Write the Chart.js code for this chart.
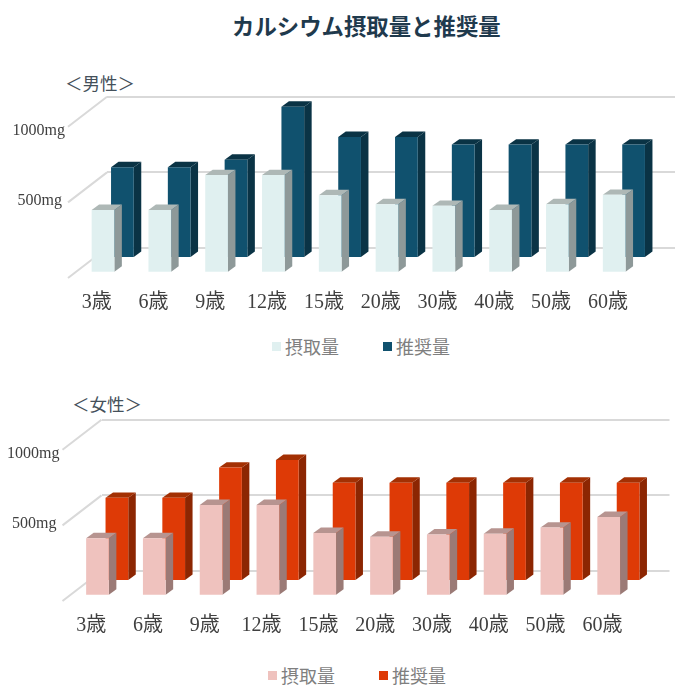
<!doctype html>
<html lang="ja">
  <head>
    <meta charset="utf-8">
    <title>カルシウム摂取量と推奨量</title>
    <style>
      * {
        margin: 0;
        padding: 0;
      }
      body {
        width: 690px;
        height: 698px;
        position: relative;
        background: #ffffff;
        overflow: hidden;
        font-family: "Liberation Serif", "Noto Sans CJK JP", sans-serif;
      }
      canvas {
        position: absolute;
        left: 0;
      }
      h1 {
        position: absolute;
        left: 232px;
        top: 9px;
        font: bold 22.4px/32px "Noto Sans CJK JP", sans-serif;
        color: #1f3a4d;
        white-space: nowrap;
      }
      .sub {
        position: absolute;
        font: 17.5px/24px "Noto Sans CJK JP", sans-serif;
        color: #44505a;
        white-space: nowrap;
      }
      .legend {
        position: absolute;
        display: flex;
        align-items: center;
        font: 18px/24px "Noto Sans CJK JP", sans-serif;
        color: #7f7f7f;
        white-space: nowrap;
      }
      .legend i {
        display: inline-block;
        width: 9px;
        height: 9px;
        margin-right: 4px;
      }
      .legend span {
        margin-right: 44px;
      }
    </style>
  </head>
  <body>
    <h1>カルシウム摂取量と推奨量</h1>

    <div class="sub" style="left:65px;top:71px">＜男性＞</div>
    <canvas id="maleChart" width="690" height="260" style="top:60px"></canvas>
    <div class="legend" id="maleLegend" style="left:272px;top:334px"></div>

    <div class="sub" style="left:72px;top:392px">＜女性＞</div>
    <canvas id="femaleChart" width="690" height="260" style="top:383.4px"></canvas>
    <div class="legend" id="femaleLegend" style="left:268px;top:663px"></div>

    <script src="https://cdn.jsdelivr.net/npm/chart.js"></script>
    <script>
    // data
    const ages = ['3歳', '6歳', '9歳', '12歳', '15歳', '20歳', '30歳', '40歳', '50歳', '60歳'];
    const seriesNames = ['摂取量', '推奨量'];
    const maleIntake = [415, 415, 645, 645, 512, 453, 442, 415, 453, 515];
    const maleRecommended = [600, 600, 650, 1000, 800, 800, 750, 750, 750, 750];
    const femaleIntake = [380, 380, 600, 600, 415, 390, 405, 410, 450, 520];
    const femaleRecommended = [550, 550, 750, 800, 650, 650, 650, 650, 650, 650];

    // fake 3D: each dataset is pushed forward from the back wall
    const frontShift = { x: -32.4, y: 24.7 };
    const backShift = { x: -13, y: 10 };
    const barDepth = { x: 7.5, y: 5.4 };
    const floorDepth = { x: -39, y: 30 };

    const cuboid = {
      id: 'cuboid',
      beforeDatasetDraw(chart, args) {
        const ds = chart.data.datasets[args.index];
        const ctx = chart.ctx;
        ctx.save();
        ctx.translate(ds.shift.x, ds.shift.y);
        args.meta.data.forEach(bar => {
          const right = bar.x + bar.width / 2;
          const left = bar.x - bar.width / 2;
          ctx.fillStyle = ds.sideColor;
          ctx.beginPath();
          ctx.moveTo(right, bar.y);
          ctx.lineTo(right + barDepth.x, bar.y - barDepth.y);
          ctx.lineTo(right + barDepth.x, bar.base - barDepth.y);
          ctx.lineTo(right, bar.base);
          ctx.fill();
          ctx.fillStyle = ds.topColor;
          ctx.beginPath();
          ctx.moveTo(left, bar.y);
          ctx.lineTo(left + barDepth.x, bar.y - barDepth.y);
          ctx.lineTo(right + barDepth.x, bar.y - barDepth.y);
          ctx.lineTo(right, bar.y);
          ctx.fill();
        });
      },
      afterDatasetDraw(chart) {
        chart.ctx.restore();
      }
    };

    const floorLines = {
      id: 'floorLines',
      beforeDatasetsDraw(chart) {
        const ctx = chart.ctx;
        const y = chart.scales.y;
        ctx.save();
        ctx.strokeStyle = '#d9d9d9';
        ctx.lineWidth = 2;
        y.ticks.forEach(tick => {
          const py = y.getPixelForValue(tick.value);
          ctx.beginPath();
          ctx.moveTo(y.left, py);
          ctx.lineTo(y.left + floorDepth.x, py + floorDepth.y);
          ctx.stroke();
        });
        ctx.restore();
      }
    };

    // value labels sit on the front edge, not on the wall
    const yLabels = {
      id: 'yLabels',
      afterDraw(chart) {
        const ctx = chart.ctx;
        const y = chart.scales.y;
        ctx.save();
        ctx.font = '16px "Liberation Serif"';
        ctx.fillStyle = '#404040';
        ctx.textAlign = 'right';
        ctx.textBaseline = 'middle';
        y.ticks.forEach(tick => {
          if (tick.value === 0) return;
          const big = tick.value === 1000;
          ctx.fillText(tick.value + 'mg', y.left + (big ? -42 : -45), y.getPixelForValue(tick.value) + (big ? 34 : 28));
        });
        ctx.restore();
      }
    };

    function drawChart(id, legendId, wallLeft, intake, recommended, colors) {
      const chart = new Chart(document.getElementById(id), {
        type: 'bar',
        data: {
          labels: ages,
          datasets: [
            {
              label: seriesNames[0],
              data: intake,
              backgroundColor: colors.intake[0],
              sideColor: colors.intake[1],
              topColor: colors.intake[2],
              shift: frontShift,
              clip: false
            },
            {
              label: seriesNames[1],
              data: recommended,
              backgroundColor: colors.recommended[0],
              sideColor: colors.recommended[1],
              topColor: colors.recommended[2],
              shift: backShift,
              clip: false
            }
          ]
        },
        options: {
          responsive: false,
          animation: false,
          grouped: false,
          barPercentage: 0.4,
          categoryPercentage: 1,
          layout: {
            padding: { left: wallLeft, right: 690 - wallLeft - 568, top: 36.7, bottom: 0 }
          },
          plugins: {
            legend: { display: false },
            tooltip: { enabled: false }
          },
          scales: {
            x: {
              afterFit(scale) {
                scale.height = 72;
                scale.paddingLeft = 0;
                scale.paddingRight = 0;
              },
              grid: { display: false },
              border: { display: false },
              ticks: {
                autoSkip: false,
                maxRotation: 0,
                labelOffset: -38.7,
                padding: 35,
                color: '#404040',
                font: { family: '"Liberation Serif", "Noto Sans CJK JP"', size: 20 }
              }
            },
            y: {
              min: 0,
              max: 1000,
              grid: { color: '#d9d9d9', lineWidth: 2, drawTicks: false },
              border: { display: false },
              ticks: { stepSize: 500, display: false }
            }
          }
        },
        plugins: [floorLines, cuboid, yLabels]
      });

      document.getElementById(legendId).innerHTML = chart.data.datasets.map(ds =>
        '<i style="background:' + ds.backgroundColor + '"></i><span>' + ds.label + '</span>'
      ).join('');
    }

    drawChart('maleChart', 'maleLegend', 107, maleIntake, maleRecommended, {
      intake: ['#e0f0f0', '#8e9999', '#aeb8b6'],
      recommended: ['#10516e', '#0a3345', '#0a3345']
    });
    drawChart('femaleChart', 'femaleLegend', 101.5, femaleIntake, femaleRecommended, {
      intake: ['#efc2be', '#9b7a76', '#b79490'],
      recommended: ['#de3a06', '#8c2602', '#a33003']
    });
    </script>
  </body>
</html>
